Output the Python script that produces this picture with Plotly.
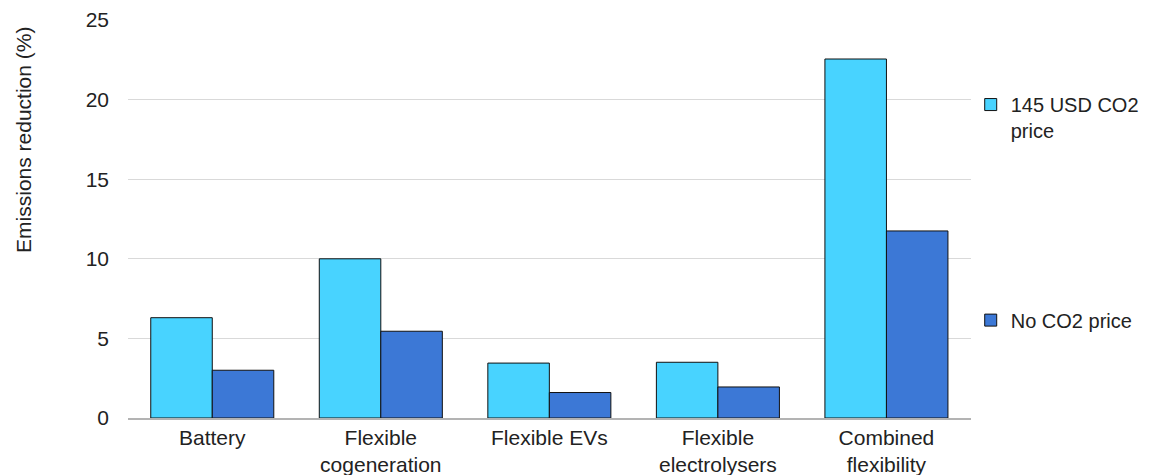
import plotly.graph_objects as go

categories = ["Battery", "Flexible<br>cogeneration", "Flexible EVs",
              "Flexible<br>electrolysers", "Combined<br>flexibility"]
with_co2_price = [6.3, 10.0, 3.45, 3.5, 22.55]
no_co2_price = [3.0, 5.45, 1.6, 1.95, 11.75]
series_names = ["145 USD CO2<br>price", "No CO2 price"]
y_ticks = [0, 5, 10, 15, 20, 25]

FONT = "Liberation Sans, Arial, sans-serif"
TXT = "#222222"
FS = 21
LFS = 20

fig = go.Figure()
fig.add_trace(go.Bar(
    x=categories, y=with_co2_price, name=series_names[0],
    marker=dict(color="#48D3FF", line=dict(color="#111111", width=1)),
    legend="legend",
))
fig.add_trace(go.Bar(
    x=categories, y=no_co2_price, name=series_names[1],
    marker=dict(color="#3C78D6", line=dict(color="#111111", width=1)),
    legend="legend2",
))

fig.update_layout(
    width=1142, height=467,
    margin=dict(l=120, r=173, t=12, b=57),
    paper_bgcolor="white", plot_bgcolor="white",
    font=dict(family=FONT, size=FS, color=TXT),
    barmode="group", bargap=0.27, bargroupgap=0,
    showlegend=True,
    legend=dict(xref="container", yref="container", x=0.843, xanchor="left",
                y=0.835, yanchor="top",
                font=dict(family=FONT, size=LFS, color=TXT),
                valign="top", bgcolor="rgba(0,0,0,0)", itemclick=False),
    legend2=dict(xref="container", yref="container", x=0.843, xanchor="left",
                 y=0.3734, yanchor="top",
                 font=dict(family=FONT, size=LFS, color=TXT),
                 valign="top", bgcolor="rgba(0,0,0,0)", itemclick=False),
    xaxis=dict(showgrid=False, showline=True, linecolor="#b3b3b3", linewidth=1.5,
               ticks="", automargin=False,
               tickfont=dict(family=FONT, size=FS, color=TXT)),
    yaxis=dict(range=[0, 25], tickvals=y_ticks, showgrid=True,
               gridcolor="#d9d9d9", gridwidth=1, zeroline=False, showline=False,
               ticks="", ticklabelstandoff=18, automargin=False,
               tickfont=dict(family=FONT, size=FS, color=TXT)),
    annotations=[dict(text="Emissions reduction (%)", textangle=-90,
                      xref="paper", yref="paper", x=-0.1249, y=0.698,
                      xanchor="center", yanchor="middle", showarrow=False,
                      font=dict(family=FONT, size=FS, color=TXT))],
)

fig.write_html("out.html")
